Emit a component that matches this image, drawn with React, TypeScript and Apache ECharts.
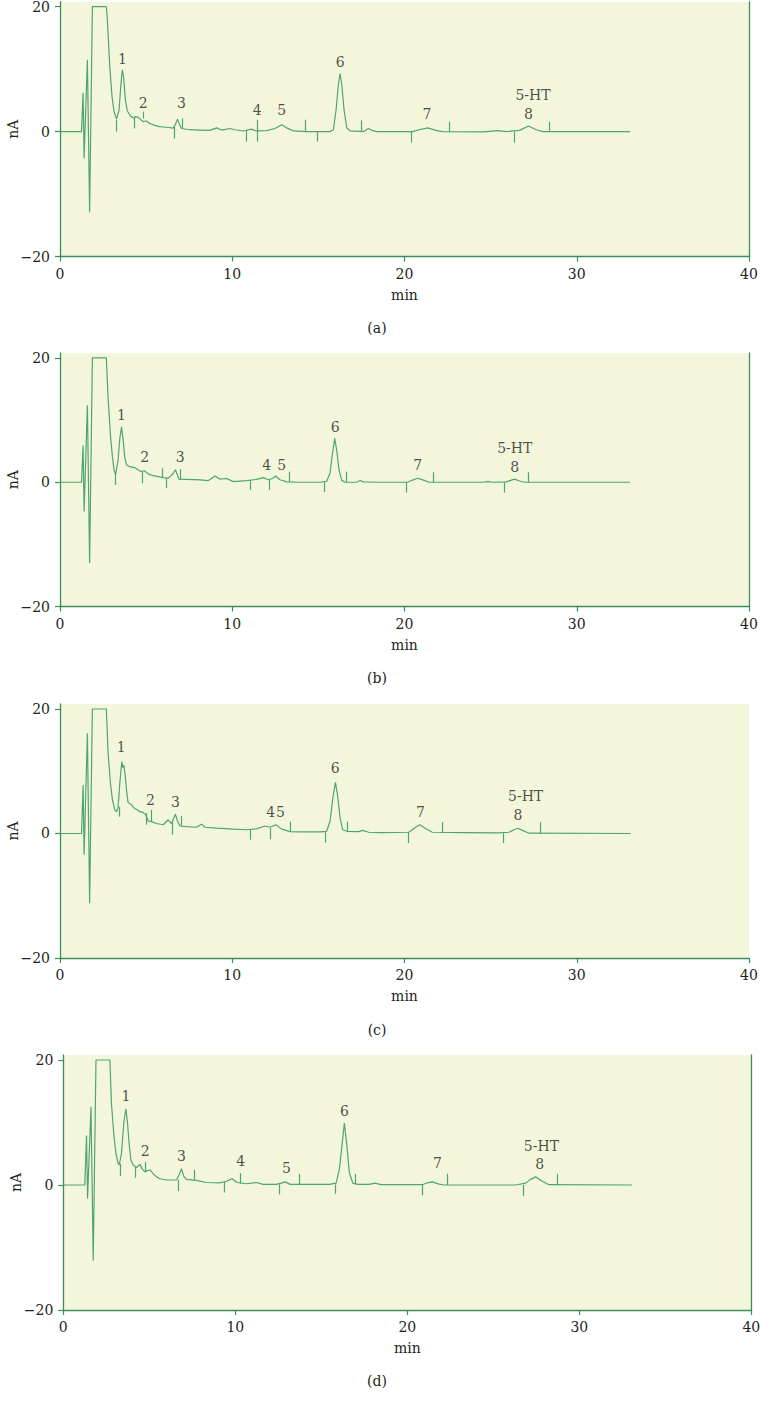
import React, { useEffect, useRef } from "react";
import * as echarts from "echarts";

// ---------- data ----------
const panelNames = ["(a)", "(b)", "(c)", "(d)"];

// retention time (min), current (nA)
const traceA: number[][] = [
  [0, 0], [1.25, 0], [1.34, 6.2], [1.4, -4.3], [1.59, 11.5], [1.72, -12.9], [1.88, 20], [2.69, 20],
  [2.75, 17.9], [2.89, 10.4], [3.02, 5.6], [3.14, 3.2], [3.28, 2.0],
  [3.43, 3.5], [3.55, 8.0], [3.62, 9.9], [3.7, 8.5], [3.8, 5.0], [3.91, 3.3], [4.09, 2.5], [4.24, 2.2],
  [4.4, 2.4], [4.53, 2.3], [4.73, 1.8], [4.83, 1.6], [5.02, 1.7], [5.21, 1.3], [5.5, 1.0], [5.79, 0.8],
  [6.18, 0.7], [6.57, 0.55], [6.71, 1.2], [6.82, 2.0], [6.92, 1.3], [7.05, 0.5], [7.54, 0.3], [8.12, 0.25],
  [8.7, 0.2], [9.09, 0.6], [9.38, 0.25], [9.86, 0.5], [10.16, 0.3], [10.64, 0.1], [11.12, 0.4], [11.41, 0.1],
  [12.0, 0.15], [12.48, 0.5], [12.87, 1.1], [13.16, 0.6], [13.55, 0.1], [14.32, 0], [15.68, 0], [15.87, 0.3],
  [16.03, 3.5], [16.16, 7.5], [16.26, 9.3], [16.36, 7.5], [16.49, 3.5], [16.65, 0.6], [16.84, 0.1], [17.62, 0],
  [17.91, 0.5], [18.1, 0.2], [18.39, 0], [20.47, 0], [20.85, 0.3], [21.34, 0.6], [21.83, 0.2], [22.21, 0],
  [24.54, -0.05], [25.42, 0.15], [25.9, 0], [26.68, 0.2], [27.2, 0.9], [27.65, 0.3], [28.04, 0], [33.09, 0],
];
const traceB: number[][] = [
  [0, 0], [1.25, 0], [1.34, 5.9], [1.4, -4.7], [1.59, 12.4], [1.72, -13.0], [1.88, 20], [2.69, 20],
  [2.79, 13.7], [2.93, 7.5], [3.04, 4.2], [3.14, 2.0], [3.22, 1.2],
  [3.37, 3.5], [3.47, 7.0], [3.57, 8.9], [3.66, 7.0], [3.76, 4.0], [3.86, 2.8], [4.05, 2.5], [4.34, 2.35],
  [4.53, 2.0], [4.73, 1.7], [4.88, 1.9], [5.12, 1.35], [5.41, 1.05], [5.7, 0.9], [5.99, 0.75], [6.28, 0.65],
  [6.47, 1.1], [6.61, 1.6], [6.7, 2.0], [6.8, 1.3], [6.9, 0.5], [7.34, 0.45], [8.12, 0.37], [8.6, 0.25],
  [9.0, 1.0], [9.28, 0.5], [9.67, 0.6], [10.06, 0.1], [10.83, 0.25], [11.41, 0.45], [11.8, 0.75], [12.09, 0.4],
  [12.34, 0.6], [12.52, 1.0], [12.77, 0.4], [13.16, 0.05], [13.93, 0], [15.1, 0], [15.48, 0.15], [15.68, 1.5],
  [15.81, 4.5], [15.95, 7.06], [16.07, 5.0], [16.2, 2.0], [16.36, 0.3], [16.55, 0], [17.23, 0], [17.42, 0.27],
  [17.62, 0.05], [18.52, 0], [20.17, 0], [20.47, 0.35], [20.76, 0.64], [21.15, 0.3], [21.44, 0], [24.54, 0],
  [24.83, 0.1], [25.13, 0], [25.9, 0.05], [26.2, 0.35], [26.39, 0.5], [26.68, 0.2], [26.97, 0], [33.09, 0],
];
const traceC: number[][] = [
  [0, 0], [1.25, 0], [1.34, 7.8], [1.4, -3.4], [1.59, 16.1], [1.72, -11.2], [1.88, 20], [2.69, 20],
  [2.79, 13.0], [2.93, 8.0], [3.04, 5.5], [3.18, 3.8], [3.28, 3.5], [3.37, 4.2],
  [3.47, 8.0], [3.59, 11.55], [3.64, 10.6], [3.7, 11.0], [3.78, 9.5], [3.86, 7.0], [3.95, 5.0], [4.15, 4.6],
  [4.34, 4.0], [4.48, 3.8], [4.63, 3.5], [4.83, 3.4], [4.98, 3.0], [5.12, 2.0], [5.31, 1.9], [5.6, 1.6],
  [5.99, 1.4], [6.28, 2.2], [6.47, 1.6], [6.61, 2.5], [6.7, 3.1], [6.82, 2.0], [6.96, 1.2], [7.34, 1.1],
  [7.93, 1.0], [8.22, 1.5], [8.41, 1.0], [9.09, 0.85], [10.06, 0.7], [10.83, 0.6], [11.41, 0.75], [11.9, 1.2],
  [12.19, 1.0], [12.54, 1.4], [12.87, 0.7], [13.35, 0.3], [13.93, 0.25], [15.1, 0.25], [15.48, 0.35], [15.68, 2.0],
  [15.83, 5.5], [15.99, 8.2], [16.12, 6.0], [16.26, 2.5], [16.41, 0.6], [16.65, 0.35], [17.33, 0.3], [17.58, 0.5],
  [17.92, 0.2], [18.6, 0.15], [20.25, 0.2], [20.54, 0.8], [20.89, 1.4], [21.22, 0.8], [21.61, 0.2], [23.45, 0.15],
  [25.39, 0.1], [26.06, 0.2], [26.36, 0.6], [26.59, 0.85], [26.84, 0.5], [27.23, 0.05], [33.14, 0],
];
const traceD: number[][] = [
  [0, 0], [1.25, 0], [1.35, 7.9], [1.41, -2.2], [1.61, 12.5], [1.74, -12.1], [1.9, 20], [2.71, 20],
  [2.8, 13.0], [2.94, 8.0], [3.06, 5.0], [3.19, 3.4], [3.25, 3.2],
  [3.38, 5.0], [3.52, 10.0], [3.64, 12.2], [3.73, 10.0], [3.83, 6.5], [3.93, 4.0], [4.06, 3.2], [4.26, 2.8],
  [4.45, 3.3], [4.6, 2.5], [4.74, 2.1], [4.89, 2.3], [5.07, 2.4], [5.22, 1.8], [5.42, 1.3], [5.61, 1.0],
  [6.0, 0.8], [6.58, 0.8], [6.73, 1.6], [6.87, 2.6], [7.0, 1.4], [7.16, 0.9], [7.74, 0.75], [8.32, 0.4],
  [9.09, 0.35], [9.48, 0.6], [9.81, 1.0], [10.1, 0.4], [10.64, 0.2], [11.22, 0.4], [11.61, 0.1], [12.38, 0.1],
  [12.67, 0.3], [12.9, 0.5], [13.19, 0.1], [15.47, 0.1], [15.86, 0.3], [16.05, 2.5], [16.21, 6.5], [16.34, 9.9],
  [16.48, 6.5], [16.63, 2.0], [16.83, 0.3], [17.12, 0.1], [17.79, 0.1], [18.12, 0.3], [18.47, 0.05], [20.88, 0.05],
  [21.17, 0.35], [21.46, 0.5], [21.85, 0.15], [22.14, 0], [26.3, 0], [26.88, 0.3], [27.17, 0.9], [27.46, 1.3],
  [27.85, 0.6], [28.23, 0.05], [33.06, 0],
];

// integration markers: [time, upper nA, lower nA]
const markersA: number[][] = [
  [3.24, 1.9, 0], [4.3, 2.2, 0.5], [4.83, 3.2, 2.1], [6.61, 0.8, -1.1], [7.09, 2.1, 0.5], [10.83, 0.27, -1.6],
  [11.48, 1.9, -1.6], [14.24, 1.9, 0], [14.96, 0, -1.6], [17.47, 1.8, 0], [20.4, 0, -1.76], [22.6, 1.6, 0],
  [26.35, 0, -1.76], [28.4, 1.6, 0],
];
const markersB: number[][] = [
  [3.22, 1.44, -0.43], [4.77, 1.7, -0.16], [5.95, 2.25, 0.75], [6.14, 0.64, -0.96], [6.98, 2.1, 0.37],
  [11.03, 0.27, -1.23], [12.15, 0.37, -1.23], [13.29, 1.7, 0], [15.33, 0, -1.6], [16.63, 1.7, 0],
  [20.12, 0, -1.66], [21.69, 1.6, 0], [25.8, 0, -1.66], [27.17, 1.6, 0],
];
const markersC: number[][] = [
  [3.43, 4.3, 2.7], [4.98, 3.26, 1.4], [5.27, 3.8, 1.9], [6.53, 1.9, -0.2], [7.02, 2.8, 1.2],
  [11.07, 0.6, -1.0], [12.19, 0.85, -0.9], [13.39, 1.9, 0.3], [15.39, 0.2, -1.45], [16.7, 1.9, 0.2],
  [20.19, 0.2, -1.55], [22.19, 1.8, 0.05], [25.72, 0.05, -1.55], [27.9, 1.8, 0],
];
const markersD: number[][] = [
  [3.29, 3.4, 1.44], [4.16, 2.9, 1.17], [4.78, 3.7, 2.1], [6.67, 0.85, -0.96], [7.6, 2.45, 0.85],
  [9.34, 0.48, -1.2], [10.31, 1.9, 0.2], [12.57, 0.1, -1.5], [13.73, 1.8, 0], [15.82, 0.1, -1.4],
  [16.96, 1.8, 0.1], [20.85, 0, -1.65], [22.33, 1.8, 0], [26.72, 0, -1.76], [28.71, 1.8, 0],
];

// peak labels: [text, time, nA]
const labelsA: (string | number)[][] = [
  ["1", 3.62, 11.7], ["2", 4.83, 4.6], ["3", 7.05, 4.6], ["4", 11.45, 3.5], ["5", 12.87, 3.5],
  ["6", 16.26, 11.1], ["7", 21.3, 2.8], ["5-HT", 27.46, 5.9], ["8", 27.2, 2.8],
];
const labelsB: (string | number)[][] = [
  ["1", 3.57, 10.8], ["2", 4.92, 4.0], ["3", 6.98, 4.0], ["4", 12.0, 2.7], ["5", 12.87, 2.7],
  ["6", 15.97, 8.9], ["7", 20.76, 2.8], ["5-HT", 26.4, 5.45], ["8", 26.4, 2.5],
];
const labelsC: (string | number)[][] = [
  ["1", 3.55, 13.85], ["2", 5.25, 5.4], ["3", 6.7, 5.1], ["4", 12.23, 3.5], ["5", 12.8, 3.5],
  ["6", 15.97, 10.6], ["7", 20.93, 3.4], ["5-HT", 27.03, 6.0], ["8", 26.59, 3.0],
];
const labelsD: (string | number)[][] = [
  ["1", 3.64, 14.2], ["2", 4.76, 5.5], ["3", 6.87, 4.7], ["4", 10.31, 3.8], ["5", 12.97, 2.7],
  ["6", 16.34, 11.8], ["7", 21.75, 3.5], ["5-HT", 27.8, 6.2], ["8", 27.7, 3.3],
];

const yTicks = [-20, 0, 20];
const xTickInterval = 10;

// ---------- layout & style ----------
const W = 760;
const H = 1404;
const FONT = "DejaVu Serif";
const TEXT = "#231f20";
const LINE = "#4ea570";
const AXIS = "#3b8d5b";
const FILL = "#f4f6dc";

const grids = [
  { left: 60, top: 1.7, width: 689, height: 254.8 },
  { left: 60, top: 353, width: 689, height: 253.5 },
  { left: 60, top: 704, width: 689, height: 254 },
  { left: 63.3, top: 1055, width: 688, height: 255 },
];
const rightBorder = [true, true, false, true];
const captionY = [328, 678, 1030, 1381];
const captionX = 377;

const traces = [traceA, traceB, traceC, traceD];
const markers = [markersA, markersB, markersC, markersD];
const labels = [labelsA, labelsB, labelsC, labelsD];

function buildOption() {
  const grid: any[] = [];
  const xAxis: any[] = [];
  const yAxis: any[] = [];
  const series: any[] = [];
  const graphic: any[] = [];

  grids.forEach((g, i) => {
    grid.push({
      left: g.left,
      top: g.top,
      width: g.width,
      height: g.height,
      show: true,
      backgroundColor: FILL,
      borderWidth: 0,
      containLabel: false,
      outerBoundsMode: "none",
    });
    xAxis.push({
      type: "value",
      gridIndex: i,
      min: 0,
      max: 40,
      interval: xTickInterval,
      name: "min",
      nameLocation: "middle",
      nameGap: 31,
      nameMoveOverlap: false,
      nameTextStyle: { fontFamily: FONT, fontSize: 14, color: TEXT },
      axisLine: { show: true, onZero: false, lineStyle: { color: AXIS, width: 1.3 } },
      axisTick: { show: true, length: 5, lineStyle: { color: AXIS, width: 1.2 } },
      axisLabel: { fontFamily: FONT, fontSize: 14, color: TEXT, margin: 10 },
      splitLine: { show: false },
    });
    yAxis.push({
      type: "value",
      gridIndex: i,
      min: -20,
      max: 20.8,
      name: "nA",
      nameLocation: "middle",
      nameRotate: 90,
      nameGap: 40,
      nameMoveOverlap: false,
      nameTextStyle: { fontFamily: FONT, fontSize: 14, color: TEXT },
      axisLine: { show: true, lineStyle: { color: AXIS, width: 1.3 } },
      axisTick: { show: true, length: 5, customValues: yTicks, lineStyle: { color: AXIS, width: 1.2 } },
      axisLabel: {
        fontFamily: FONT,
        fontSize: 14,
        color: TEXT,
        margin: 10,
        customValues: yTicks,
        formatter: (v: number) => (v < 0 ? "\u2212" + Math.abs(v) : String(v)),
      },
      splitLine: { show: false },
    });
  });
  // right border axes
  grids.forEach((g, i) => {
    yAxis.push({
      type: "value",
      gridIndex: i,
      position: "right",
      min: -20,
      max: 20.8,
      show: rightBorder[i],
      axisLine: { show: true, lineStyle: { color: AXIS, width: 1.3 } },
      axisTick: { show: false },
      axisLabel: { show: false },
      splitLine: { show: false },
    });
  });

  traces.forEach((tr, i) => {
    series.push({
      type: "line",
      xAxisIndex: i,
      yAxisIndex: i,
      data: tr,
      showSymbol: false,
      symbol: "none",
      silent: true,
      lineStyle: { color: LINE, width: 1.2 },
      markLine: {
        silent: true,
        symbol: ["none", "none"],
        label: { show: false },
        lineStyle: { color: LINE, width: 1.2, type: "solid" },
        data: markers[i].map((m) => [{ coord: [m[0], m[1]] }, { coord: [m[0], m[2]] }]),
      },
    });
    series.push({
      type: "scatter",
      xAxisIndex: i,
      yAxisIndex: i,
      symbolSize: 0,
      silent: true,
      data: labels[i].map((l) => ({ name: String(l[0]), value: [l[1], l[2]] })),
      label: {
        show: true,
        position: "inside",
        formatter: "{b}",
        fontFamily: FONT,
        fontSize: 14,
        color: TEXT,
      },
    });
    graphic.push({
      type: "text",
      x: captionX,
      y: captionY[i],
      style: {
        text: panelNames[i],
        fontFamily: FONT,
        fontSize: 14,
        fill: TEXT,
        align: "center",
        verticalAlign: "middle",
      },
    });
  });

  return {
    animation: false,
    backgroundColor: "#ffffff",
    grid,
    xAxis,
    yAxis,
    series,
    graphic,
  };
}

export default function App() {
  const ref = useRef<HTMLDivElement | null>(null);
  useEffect(() => {
    if (!ref.current) return;
    const chart = echarts.init(ref.current, undefined, { renderer: "svg" });
    chart.setOption(buildOption() as any);
    return () => chart.dispose();
  }, []);
  return (
    <div
      ref={ref}
      style={{ position: "absolute", left: 0, top: 0, width: W, height: H, background: "#fff" }}
    />
  );
}
